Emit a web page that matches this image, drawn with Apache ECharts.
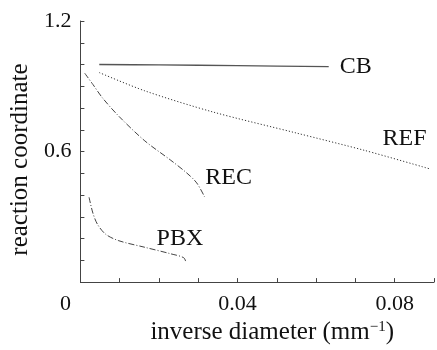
<!DOCTYPE html>
<html>
<head>
<meta charset="utf-8">
<script src="https://cdn.jsdelivr.net/npm/echarts@6/dist/echarts.min.js"></script>
<style>
html,body{margin:0;padding:0;background:#fff;}
#c{width:437px;height:350px;}
</style>
</head>
<body>
<div id="c"></div>
<script>
// ---- data ----
const seriesNames = ['CB', 'REF', 'REC', 'PBX'];
const cbX  = [0.0048, 0.020, 0.040, 0.0632];
const cbY  = [1.000, 0.998, 0.995, 0.990];
const refX = [0.0048, 0.0164, 0.0337, 0.055, 0.0724, 0.089];
const refY = [0.963, 0.879, 0.782, 0.685, 0.605, 0.520];
const recX = [0.0011, 0.0032, 0.0056, 0.0098, 0.0164, 0.0230, 0.0271, 0.0296, 0.0316];
const recY = [0.960, 0.908, 0.847, 0.762, 0.649, 0.560, 0.501, 0.456, 0.392];
const pbxX = [0.0022, 0.0032, 0.0044, 0.0065, 0.0098, 0.0164, 0.0230, 0.0263, 0.0269];
const pbxY = [0.390, 0.316, 0.264, 0.219, 0.190, 0.160, 0.130, 0.112, 0.089];
const xTickLabels = [0.04, 0.08];
const yTickLabels = [0.6, 1.2];
const xAxisTitle = 'inverse diameter (mm{sup|−1})';
const yAxisTitle = 'reaction coordinate';
// label anchors (data coordinates) for the curve names
const labelAnchorX = [0.066, 0.0769, 0.0318, 0.0194];
const labelAnchorY = [0.991, 0.658, 0.480, 0.200];

const pair = (xs, ys) => xs.map((x, i) => [x, ys[i]]);
const FONT = '"Liberation Serif", "DejaVu Serif", serif';
const ink = '#111';

const chart = echarts.init(document.getElementById('c'), null, {renderer: 'canvas'});

function mk(name, xs, ys, lineType, width, color, idx) {
  return {
    name: name, type: 'line', data: pair(xs, ys), smooth: 0.3,
    showSymbol: false, symbol: 'none', animation: false,
    lineStyle: {color: color, width: width, type: lineType},
    markPoint: {
      symbol: 'circle', symbolSize: 0, animation: false,
      data: [{coord: [labelAnchorX[idx], labelAnchorY[idx]], value: name}],
      label: {show: true, position: 'right', distance: 0, formatter: name,
        fontFamily: FONT, fontSize: 24, color: '#111'}
    }
  };
}

chart.setOption({
  backgroundColor: '#fff',
  animation: false,
  grid: {left: 74.5, right: 1, top: 21, bottom: 59, containLabel: false},
  xAxis: {
    type: 'value', min: 0, max: 0.09, interval: 0.01,
    axisLine: {show: true, lineStyle: {color: '#444', width: 1}},
    axisTick: {show: true, inside: true, length: 4, lineStyle: {color: '#444'}},
    splitLine: {show: false},
    axisLabel: {
      margin: 11, fontFamily: FONT, fontSize: 22, color: ink,
      formatter: v => xTickLabels.some(t => Math.abs(t - v) < 1e-9) ? String(v) : ''
    },
    name: xAxisTitle, nameLocation: 'middle', nameGap: 30,
    nameTextStyle: {fontFamily: FONT, fontSize: 25, color: ink, padding: [0, 0, 0, 30],
      rich: {sup: {fontFamily: FONT, fontSize: 15, color: ink, verticalAlign: 'top', padding: [0, 0, 8, 0]}}}
  },
  yAxis: {
    type: 'value', min: 0, max: 1.2, interval: 0.1,
    axisLine: {show: true, lineStyle: {color: '#444', width: 1}},
    axisTick: {show: true, inside: true, length: 4, lineStyle: {color: '#444'}},
    splitLine: {show: false},
    axisLabel: {
      margin: 9, fontFamily: FONT, fontSize: 22, color: ink,
      formatter: v => yTickLabels.some(t => Math.abs(t - v) < 1e-9) ? v.toFixed(1) : ''
    },
    name: yAxisTitle, nameLocation: 'middle', nameGap: 45,
    nameTextStyle: {fontFamily: FONT, fontSize: 25, color: ink, padding: [0, 16, 0, 0]}
  },
  series: [
    mk(seriesNames[0], cbX, cbY, 'solid', 1.3, '#555', 0),
    mk(seriesNames[1], refX, refY, [1.2, 2], 1, '#333', 1),
    mk(seriesNames[2], recX, recY, [6, 2, 1, 2], 1, '#444', 2),
    mk(seriesNames[3], pbxX, pbxY, [6, 2, 1, 2], 1, '#444', 3)
  ]
});

// shared origin label "0" sits below-left of the origin
const o = chart.convertToPixel({gridIndex: 0}, [0, 0]);
chart.setOption({
  graphic: [{
    type: 'text', x: o[0] - 15, y: o[1] + 22,
    style: {text: '0', fontFamily: FONT, fontSize: 22, fill: ink, align: 'center', verticalAlign: 'middle'}
  }]
});
</script>
</body>
</html>
